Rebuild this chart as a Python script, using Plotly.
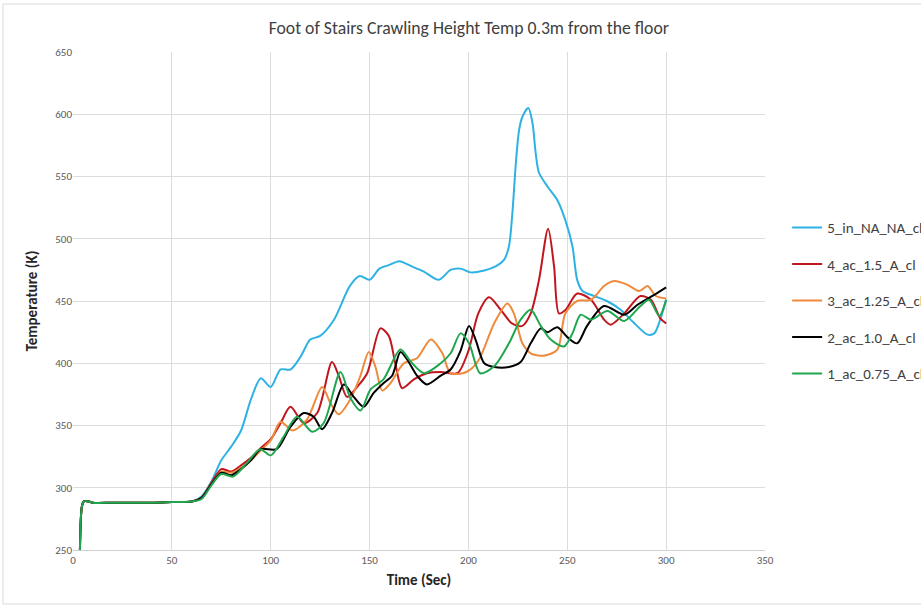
import plotly.graph_objects as go

title = "Foot of Stairs Crawling Height Temp 0.3m from the floor"
names = ["5_in_NA_NA_cl", "4_ac_1.5_A_cl", "3_ac_1.25_A_cl", "2_ac_1.0_A_cl", "1_ac_0.75_A_cl"]
colors = ["#2eb2e4", "#c0161e", "#ef8a3c", "#000000", "#21a650"]

start_t = [3.5, 4.5, 5.5, 8, 10, 20, 30, 40, 50, 60]
start_y = [250, 285, 289, 289, 288, 288, 288, 288, 288.5, 289]

t5 = [65, 70, 75, 80, 85, 90, 95, 100, 105, 110, 115, 120, 125, 132, 140, 145, 150, 155, 160, 165, 171,
      177, 185, 191, 196, 201, 208, 214, 218, 220.5, 222.2, 224, 225.6, 227.3, 230.3, 232.4, 234, 235.7,
      240, 245, 249, 252.6, 255, 257.7, 263.6, 270, 277, 284, 290.6, 294, 297, 300]
y5 = [293, 305, 322, 333, 346, 371, 388, 381, 395, 395, 405, 419, 422, 435, 462, 470, 467, 476, 479, 482, 478,
      474, 467, 475, 476, 473, 474.5, 478, 483, 494, 520, 561, 587, 598, 605, 593, 569, 553,
      542, 531, 515, 494, 467, 458, 454, 450, 443, 432, 423, 424, 435, 451]

t4 = [65, 70, 75, 80, 85, 90, 95, 100, 105, 110, 116.7, 123.5, 131, 134.4, 138.6, 143.7, 148.8, 155.5, 159.7,
      163, 166.5, 172.4, 179, 186, 194.4, 200, 205, 210.4, 216.3, 222, 227.3, 231.5, 235.7, 240.3, 243.3,
      245.8, 249.2, 255, 262, 268.6, 272, 278.8, 287, 292.3, 297, 300]
y4 = [292, 304, 315, 313, 318, 324, 332, 339, 352, 365, 352, 360, 401, 390, 373, 381, 392, 428, 422,
      400, 380, 387, 392, 393, 392, 410, 440, 453, 443, 432, 430, 440, 467, 508, 478,
      440, 443, 456, 451, 435, 431, 440, 454, 451, 436, 432]

t3 = [65, 70, 75, 80, 85, 90, 95, 100, 105, 111, 118.4, 126, 130.2, 134.4, 140.3, 145.4, 149.6, 153, 156.4,
      160.6, 167.3, 174, 181, 186.8, 191, 199, 205, 213, 219.7, 223, 227.3, 231.5, 238, 245, 249, 255, 262,
      268.6, 273.7, 280.5, 286.4, 290.6, 294.8, 300]
y3 = [292, 303, 313, 312, 316, 322, 330, 338, 353, 346, 355, 381, 368, 359, 371, 390, 409, 397, 378,
      384, 400, 404, 419, 408, 392, 393, 402, 432, 448, 440, 416, 408, 406, 411, 440, 450, 451,
      462, 466, 463, 458, 462, 454, 452]

t2 = [65, 70, 75, 80, 85, 90, 95, 103, 110, 116.7, 121.7, 126, 131, 137, 142, 147, 152, 157, 161.4, 165.6,
      169, 174, 179, 186, 191, 196, 200.3, 203.6, 208, 213, 220.5, 226.4, 231.5, 236.6, 240, 245, 250, 255,
      260, 268.6, 278.8, 285.5, 294, 300]
y2 = [292, 303, 312, 310, 315, 322, 331, 331, 349, 360, 357, 347, 360, 383, 373, 365, 376, 384, 390, 409,
      403, 390, 383, 390, 395, 410, 430, 419, 400, 397, 397, 401, 416, 428, 425, 429, 421, 416,
      430, 446, 439, 447, 455, 461]

t1 = [65, 70, 75, 81, 88, 94.7, 100, 106.5, 113.3, 121, 126.8, 135.3, 140.3, 145.4, 150.5, 157, 165.6, 170.7,
      177.5, 186, 191, 196, 200.3, 206, 213, 220.5, 226.4, 231.5, 236.6, 241.6, 248.4, 252.6, 256.8, 262,
      270.3, 278.8, 287, 291.4, 296.5, 300]
y1 = [291, 302, 311, 309, 320, 331, 326, 341, 357, 345, 352, 393, 372, 362, 379, 387, 411, 401.5,
      392, 400, 408, 424, 416, 392, 397.5, 416, 435, 443, 430, 419, 413.5, 424, 439, 435,
      442, 434, 446, 451, 438, 451]

series_t = [t5, t4, t3, t2, t1]
series_y = [y5, y4, y3, y2, y1]

FONT = "Carlito, Calibri, 'Open Sans', sans-serif"

fig = go.Figure()
for i, (n, c, tt, yy) in enumerate(zip(names, colors, series_t, series_y)):
    fig.add_trace(go.Scatter(
        x=start_t + tt, y=start_y + yy, name=n, mode="lines",
        line=dict(color=c, width=2, shape="spline", smoothing=0.8),
        legendgroup=str(i),
    ))

fig.update_layout(
    width=921, height=607,
    margin=dict(l=73, r=156, t=52, b=57, autoexpand=False),
    paper_bgcolor="white", plot_bgcolor="white",
    font=dict(family=FONT, color="#595959", size=11),
    title=dict(text=title, x=0.509, xanchor="center", y=0.955, yanchor="middle",
               font=dict(family=FONT, size=17.7, color="#404040")),
    xaxis=dict(range=[0, 350], dtick=50, tick0=0, showgrid=True, gridcolor="#dcdcdc", gridwidth=1,
               zeroline=False, showline=True, linecolor="#d0d0d0", ticks="",
               tickfont=dict(size=11, color="#595959"),
               title=dict(text="<b>Time (Sec)</b>", font=dict(size=15, color="#262626"), standoff=8)),
    yaxis=dict(range=[250, 650], dtick=50, tick0=250, showgrid=True, gridcolor="#dcdcdc", gridwidth=1,
               zeroline=False, showline=False, ticks="",
               tickfont=dict(size=11, color="#595959"),
               title=dict(text="<b>Temperature (K)</b>", font=dict(size=15, color="#262626"), standoff=14)),
    legend=dict(x=1.032, y=0.68, xanchor="left", yanchor="top", traceorder="grouped",
                tracegroupgap=14, font=dict(size=15, color="#404040"), bgcolor="rgba(0,0,0,0)"),
    shapes=[dict(type="rect", xref="paper", yref="paper",
                 x0=(3 - 73) / 692, x1=(930 - 73) / 692, y0=(550 - 604) / 498, y1=(550 - 4) / 498,
                 line=dict(color="#d9d9d9", width=1), fillcolor="rgba(0,0,0,0)", layer="below")],
)

fig.write_html("out.html")
